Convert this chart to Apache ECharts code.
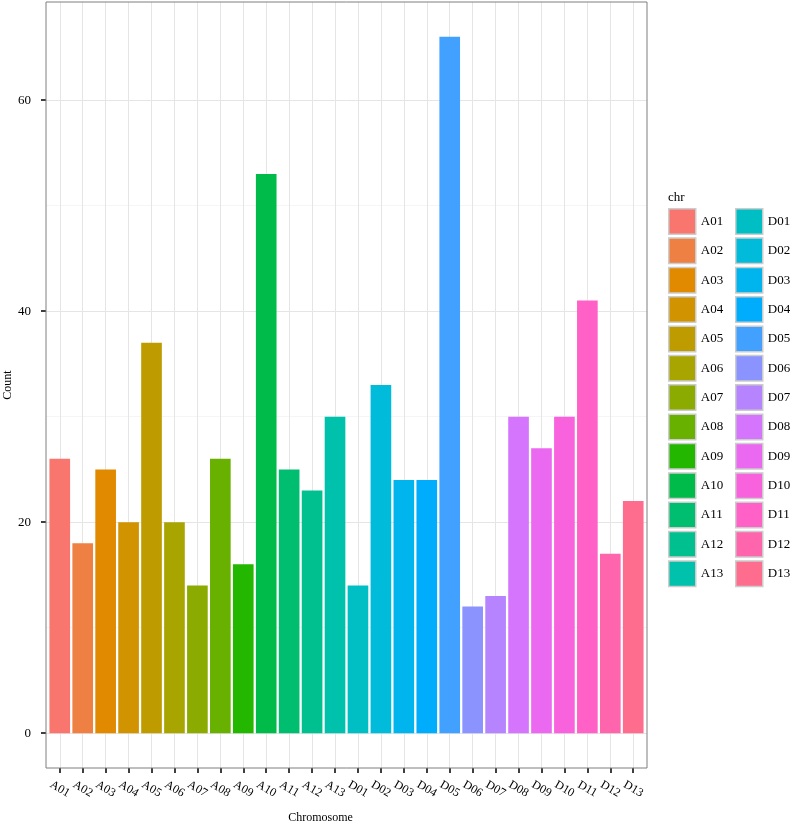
<!DOCTYPE html>
<html>
<head>
<meta charset="utf-8">
<script src="https://cdn.jsdelivr.net/npm/echarts@6/dist/echarts.min.js"></script>
<style>
html,body{margin:0;padding:0;background:#fff;}
#chart{width:790px;height:824px;}
</style>
</head>
<body>
<div id="chart"></div>
<script>
// ---- data ----
const categories = ['A01','A02','A03','A04','A05','A06','A07','A08','A09','A10','A11','A12','A13',
                    'D01','D02','D03','D04','D05','D06','D07','D08','D09','D10','D11','D12','D13'];
const counts = [26,18,25,20,37,20,14,26,16,53,25,23,30,
                14,33,24,24,66,12,13,30,27,30,41,17,22];
const yTicks = [0,20,40,60];
const legendGroupA = categories.slice(0,13);
const legendGroupD = categories.slice(13);

// ---- ggplot-like hue palette (HCL -> sRGB) ----
function hcl2hex(h, c, l){
  const hr = h*Math.PI/180, U = c*Math.cos(hr), V = c*Math.sin(hr);
  const Xn=95.047, Yn=100, Zn=108.883;
  const den = Xn + 15*Yn + 3*Zn, un = 4*Xn/den, vn = 9*Yn/den;
  const Y = Yn*(l>8 ? Math.pow((l+16)/116,3) : l/903.3);
  const u = U/(13*l)+un, v = V/(13*l)+vn;
  const X = 9*Y*u/(4*v), Z = Y*(12-3*u-20*v)/(4*v);
  const x=X/100, y=Y/100, z=Z/100;
  let r = 3.240479*x - 1.537150*y - 0.498535*z;
  let g = -0.969256*x + 1.875992*y + 0.041556*z;
  let b = 0.055648*x - 0.204043*y + 1.057311*z;
  const gam = t => { t = t<=0.0031308 ? 12.92*t : 1.055*Math.pow(t,1/2.4)-0.055; t=Math.max(0,Math.min(1,t)); return Math.round(t*255).toString(16).padStart(2,'0'); };
  return '#'+gam(r)+gam(g)+gam(b);
}
const n = categories.length;
const colors = categories.map((_, i) => hcl2hex(15 + i*360/n, 100, 65));

// ---- layout (ggplot panel) ----
const P = {L:46, R:647, T:2, B:768};
const yMin = -3.3, yMax = 69.3, yTop = 60;
const pw = P.R - P.L, ph = P.B - P.T;
const unitY = ph/(yMax - yMin);
const y0px = P.T + (yMax - 0)*unitY;
const yTopPx = P.T + (yMax - yTop)*unitY;
const catW = pw/(n - 1 + 1.2);
const firstC = P.L + 0.6*catW;

const font = 'Liberation Serif, Times New Roman, serif';

const series = categories.map((c, i) => ({
  name: c,
  type: 'bar',
  stack: 'all',
  xAxisIndex: 2, yAxisIndex: 2,
  clip: false,
  barCategoryGap: '10%',
  itemStyle: {color: colors[i]},
  data: counts.map((v, j) => j === i ? v : '-'),
  emphasis: {disabled: true}
}));

const legendCommon = {orient: 'vertical', top: 208, padding: 0, itemWidth: 27, itemHeight: 25.5, itemGap: 2.35, icon: 'rect',
  itemStyle: {borderColor: '#cccccc', borderWidth: 1.5}, textStyle: {fontFamily: font, fontSize: 13, color: '#000'}, selectedMode: false};

const noBounds = {outerBoundsMode: 'none', containLabel: false};

const chart = echarts.init(document.getElementById('chart'), null, {renderer:'canvas'});
chart.setOption({
  animation: false,
  backgroundColor: '#ffffff',
  color: colors,
  title: {text: 'chr', left: 668, top: 191, padding: 0, textStyle: {fontFamily: font, fontSize: 13, fontWeight: 'normal', color: '#000'}},
  grid: [
    // 0: panel border + axis titles
    Object.assign({left: P.L, top: P.T, width: pw, height: ph, show: true, borderColor: '#7f7f7f', borderWidth: 1, backgroundColor: 'transparent', z: 5}, noBounds),
    // 1: y gridlines / ticks (0..60)
    Object.assign({left: P.L, top: yTopPx, width: pw, height: y0px - yTopPx, show: false}, noBounds),
    // 2: bars (category with 0.5 padding)
    Object.assign({left: firstC - 0.5*catW, top: yTopPx, width: n*catW, height: y0px - yTopPx, show: false}, noBounds),
    // 3: x ticks / vertical grid lines at centers
    Object.assign({left: firstC, top: P.T, width: (n-1)*catW, height: ph, show: false}, noBounds)
  ],
  xAxis: [
    {gridIndex: 0, type: 'value', min: 0, max: 1, axisLine:{show:false}, axisTick:{show:false}, axisLabel:{show:false}, splitLine:{show:false},
     name: 'Chromosome', nameLocation: 'middle', nameGap: 44, nameTextStyle: {fontFamily: font, fontSize: 12, color: '#000', padding: [0, 52, 0, 0]}},
    {gridIndex: 1, type: 'value', min: 0, max: 1, show: false},
    {gridIndex: 2, type: 'category', data: categories, boundaryGap: true, show: false},
    {gridIndex: 3, type: 'category', data: categories, boundaryGap: false,
     axisLine: {show: false},
     axisTick: {show: true, length: 5, lineStyle: {color: '#000', width: 1.5}},
     axisLabel: {show: true, interval: 0, rotate: -30, margin: 21, fontFamily: font, fontSize: 12, color: '#000', align: 'center', verticalAlign: 'middle'},
     splitLine: {show: true, interval: 0, lineStyle: {color: '#e5e5e5', width: 1}}}
  ],
  yAxis: [
    {gridIndex: 0, type: 'value', min: 0, max: 1, axisLine:{show:false}, axisTick:{show:false}, axisLabel:{show:false}, splitLine:{show:false},
     name: 'Count', nameLocation: 'middle', nameGap: 32, nameRotate: 90, nameTextStyle: {fontFamily: font, fontSize: 12, color: '#000'}},
    {gridIndex: 1, type: 'value', min: yTicks[0], max: yTicks[yTicks.length-1], interval: yTicks[1]-yTicks[0],
     axisLine: {show: false},
     axisTick: {show: true, length: 5, lineStyle: {color: '#000', width: 1.5}},
     axisLabel: {show: true, margin: 15, fontFamily: font, fontSize: 13, color: '#000'},
     splitLine: {show: true, lineStyle: {color: '#e5e5e5', width: 1}},
     minorTick: {show: false, splitNumber: 2},
     minorSplitLine: {show: true, lineStyle: {color: '#f5f5f5', width: 1}}},
    {gridIndex: 2, type: 'value', min: yTicks[0], max: yTicks[yTicks.length-1], show: false},
    {gridIndex: 3, type: 'value', min: 0, max: 1, show: false}
  ],
  legend: [
    Object.assign({data: legendGroupA, left: 668}, legendCommon),
    Object.assign({data: legendGroupD, left: 735}, legendCommon)
  ],
  series: series
});
</script>
</body>
</html>
